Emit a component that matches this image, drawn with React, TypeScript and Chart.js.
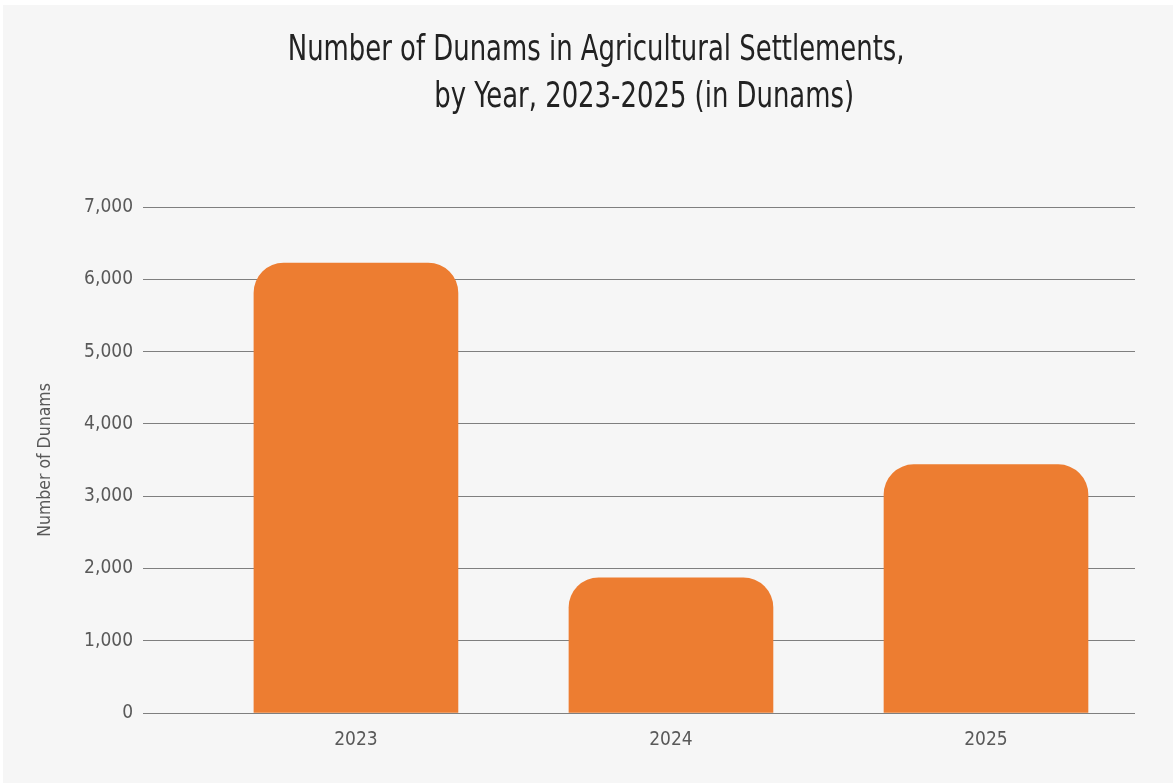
import React, { useEffect, useRef } from "react";
import { Chart, registerables } from "chart.js";

Chart.register(...registerables);

// Years shown on the category axis and the area (dunams) for each year
const years = ["2023", "2024", "2025"];
const yearIndex = [0, 1, 2];
const dunams = [6225, 1870, 3435];

// Value axis range
const yMin = 0;
const yMax = 7000;
const yStep = 1000;

const titleLines = [
  "Number of Dunams in Agricultural Settlements,",
  "by Year, 2023-2025 (in Dunams)",
];
const yAxisTitle = "Number of Dunams";

const FONT = '"Liberation Sans Narrow", "DejaVu Sans Condensed", "Roboto", sans-serif';
const BAR_COLOR = "#ED7D31";
const GRID_COLOR = "#7f7f7f";
const TICK_COLOR = "#595959";
const TITLE_COLOR = "#222222";

// Two-line title in a narrow face, second line indented to the right of the first
const titlePlugin = {
  id: "twoLineTitle",
  afterDraw(chart: any) {
    const { ctx, width } = chart;
    const squeeze = 0.8;
    ctx.save();
    ctx.fillStyle = TITLE_COLOR;
    ctx.font = `300 36px ${FONT}`;
    ctx.textAlign = "center";
    ctx.textBaseline = "middle";
    ctx.scale(squeeze, 1);
    ctx.fillText(titleLines[0], (width * 0.507) / squeeze, 46);
    ctx.fillText(titleLines[1], (width * 0.548) / squeeze, 93);
    ctx.restore();
  },
};

export default function App() {
  const canvasRef = useRef<HTMLCanvasElement | null>(null);

  useEffect(() => {
    if (!canvasRef.current) return;
    const chart = new Chart(canvasRef.current, {
      type: "bar",
      data: {
        datasets: [
          {
            data: yearIndex.map((i) => ({ x: i, y: dunams[i] })),
            backgroundColor: BAR_COLOR,
            borderWidth: 0,
            borderRadius: { topLeft: 30, topRight: 30, bottomLeft: 0, bottomRight: 0 },
            borderSkipped: false,
            barThickness: 204,
          },
        ],
      },
      options: {
        animation: false,
        responsive: false,
        maintainAspectRatio: false,
        layout: { padding: { left: 32, right: 38, top: 202, bottom: 0 } },
        plugins: {
          legend: { display: false },
          title: { display: false },
          tooltip: { enabled: false },
        },
        scales: {
          x: {
            type: "linear",
            min: -0.676,
            max: 2.473,
            offset: false,
            grid: { display: false, offset: false },
            border: { display: false },
            afterBuildTicks: (scale: any) => {
              scale.ticks = yearIndex.map((v) => ({ value: v }));
            },
            afterFit: (scale: any) => {
              scale.height = 70;
            },
            ticks: {
              callback: (v: any) => years[v as number] ?? "",
              color: TICK_COLOR,
              font: { family: FONT, size: 19 },
              padding: 8,
              maxRotation: 0,
              autoSkip: false,
            },
          },
          y: {
            min: yMin,
            max: yMax,
            grid: { color: GRID_COLOR, lineWidth: 1, drawTicks: false },
            border: { display: false },
            afterFit: (scale: any) => {
              scale.width = 108;
            },
            ticks: {
              stepSize: yStep,
              color: TICK_COLOR,
              font: { family: FONT, size: 19 },
              padding: 10,
              callback: (v: any) => Number(v).toLocaleString("en-US"),
            },
            title: {
              display: true,
              text: yAxisTitle,
              color: TICK_COLOR,
              font: { family: FONT, size: 17.5 },
              padding: { top: 0, bottom: 0 },
            },
          },
        },
      },
      plugins: [titlePlugin],
    });
    return () => chart.destroy();
  }, []);

  return (
    <div
      style={{
        position: "absolute",
        left: 3,
        top: 5,
        width: 1170,
        height: 778,
        background: "#f6f6f6",
      }}
    >
      <canvas ref={canvasRef} width={1170} height={778} style={{ display: "block" }} />
    </div>
  );
}
